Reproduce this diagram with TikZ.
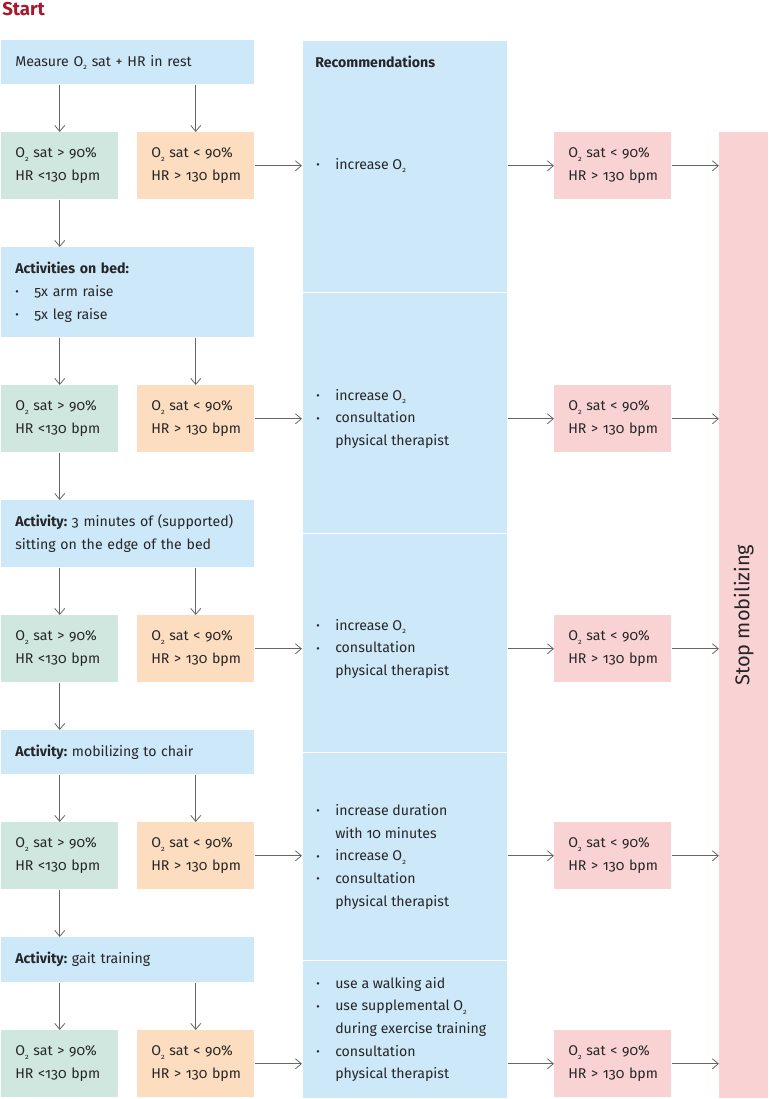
\documentclass[tikz,border=0pt]{standalone}
\usepackage{fontspec}
\setmainfont{Fira Sans}[Numbers=OldStyle]
\usepackage{xcolor}
\usetikzlibrary{arrows.meta,calc}
\definecolor{recblu}{RGB}{205,232,249}
\definecolor{okgrn}{RGB}{208,231,223}
\definecolor{warnorg}{RGB}{253,221,192}
\definecolor{stoppnk}{RGB}{249,211,212}
\definecolor{startred}{RGB}{166,25,46}
\newcommand{\Otwo}{O\raisebox{-0.45ex}{\fontsize{5.5}{6}\selectfont 2}}
\newcommand{\bul}{\makebox[14.25pt][l]{\raisebox{0.1ex}{\footnotesize\textbullet}}}
\newcommand{\ind}{\hspace*{14.25pt}}
\frenchspacing

\begin{document}
\begin{tikzpicture}[x=0.75pt,y=0.75pt,yscale=-1,xscale=1,
	txt/.style={font=\fontsize{10.6}{17}\selectfont, text=black!85},
	wide/.style={txt, anchor=north west, inner xsep=10.5pt, inner ysep=0pt, text width=168.75pt, align=left, fill=recblu},
	cond/.style={txt, anchor=north west, inner xsep=10.5pt, inner ysep=0pt, text width=66.75pt, minimum height=50.25pt, align=left},
	recbox/.style={anchor=north west, inner sep=0pt, minimum width=153.75pt, fill=recblu, draw=white, line width=0.75pt},
	arr/.style={draw=black!60, line width=0.6pt, -{Straight Barb[length=4.5pt,width=7.5pt]}}]
	\useasboundingbox (0,0) rectangle (770,1099);

	\node [anchor=base west, inner sep=0pt, font=\fontsize{14}{16}\selectfont\bfseries, text=startred] (start) at (2,15.5) {Start};

	% recommendations column
	\node [recbox, minimum height=189pt] (rec1) at (302,40) {};
	\node [recbox, minimum height=180.75pt] (rec2) at (302,292) {};
	\node [recbox, minimum height=164.25pt] (rec3) at (302,533) {};
	\node [recbox, minimum height=156pt] (rec4) at (302,752) {};
	\node [recbox, minimum height=103.5pt] (rec5) at (302,960) {};
	\node [txt, anchor=west, inner sep=0pt, font=\fontsize{10.6}{17}\selectfont\bfseries] (rechead) at (315,62) {Recommendations};

	% stop column
	\node [anchor=north west, inner sep=0pt, minimum width=36.75pt, minimum height=724.5pt, fill=stoppnk] (stop) at (719,132) {};
	\node [txt, rotate=90, inner sep=0pt, font=\fontsize{15}{17}\selectfont] (stoptxt) at (stop.center) {Stop mobilizing};

	% activities
	\node [wide, minimum height=33pt] (meas) at (1,40) {Measure \Otwo{} sat + HR in rest};
	\node [wide, minimum height=67.5pt] (bed) at (1,247) {\textbf{Activities on bed:}\\ \bul 5x arm raise\\ \bul 5x leg raise};
	\node [wide, minimum height=50.25pt] (sit) at (1,500) {\textbf{Activity:} 3 minutes of (supported)\\ sitting on the edge of the bed};
	\node [wide, minimum height=33pt] (chair) at (1,730) {\textbf{Activity:} mobilizing to chair};
	\node [wide, minimum height=33.75pt] (gait) at (1,937) {\textbf{Activity:} gait training};

	% measured values
	\foreach \i/\y in {1/132,2/385,3/615,4/822,5/1030}{
		\node [cond, fill=okgrn] (g\i) at (1,\y) {\Otwo{} sat~>~90\%\\ HR~<130~bpm};
		\node [cond, fill=warnorg] (o\i) at (137,\y) {\Otwo{} sat~<~90\%\\ HR~>~130~bpm};
		\node [cond, fill=stoppnk] (r\i) at (554,\y) {\Otwo{} sat~<~90\%\\ HR~>~130~bpm};
	}

	% recommendation texts
	\node [txt, anchor=west, inner sep=0pt, align=left] (t1) at ($(rec1.west |- o1.east)+(14,0)$) {\bul increase \Otwo};
	\node [txt, anchor=west, inner sep=0pt, align=left] (t2) at ($(rec2.west |- o2.east)+(14,0)$) {\bul increase \Otwo\\ \bul consultation\\ \ind physical therapist};
	\node [txt, anchor=west, inner sep=0pt, align=left] (t3) at ($(rec3.west |- o3.east)+(14,0)$) {\bul increase \Otwo\\ \bul consultation\\ \ind physical therapist};
	\node [txt, anchor=west, inner sep=0pt, align=left] (t4) at ($(rec4.west |- o4.east)+(14,1)$) {\bul increase duration\\ \ind with 10 minutes\\ \bul increase \Otwo\\ \bul consultation\\ \ind physical therapist};
	\node [txt, anchor=west, inner sep=0pt, align=left] (t5) at ($(rec5.west)+(14,0)$) {\bul use a walking aid\\ \bul use supplemental \Otwo\\ \ind during exercise training\\ \bul consultation\\ \ind physical therapist};

	% arrows down the left side
	\draw [arr] (g1.north |- meas.south) -- (g1.north);
	\draw [arr] (o1.north |- meas.south) -- (o1.north);
	\draw [arr] (g1.south) -- (g1.south |- bed.north);
	\draw [arr] (g2.north |- bed.south) -- (g2.north);
	\draw [arr] (o2.north |- bed.south) -- (o2.north);
	\draw [arr] (g2.south) -- (g2.south |- sit.north);
	\draw [arr] (g3.north |- sit.south) -- (g3.north);
	\draw [arr] (o3.north |- sit.south) -- (o3.north);
	\draw [arr] (g3.south) -- (g3.south |- chair.north);
	\draw [arr] (g4.north |- chair.south) -- (g4.north);
	\draw [arr] (o4.north |- chair.south) -- (o4.north);
	\draw [arr] (g4.south) -- (g4.south |- gait.north);
	\draw [arr] (g5.north |- gait.south) -- (g5.north);
	\draw [arr] (o5.north |- gait.south) -- (o5.north);

	% arrows to the right
	\foreach \i in {1,...,5}{
		\draw [arr] (o\i.east) -- (o\i.east -| rec\i.west);
		\draw [arr] (r\i.west -| rec\i.east) -- (r\i.west);
		\draw [arr] (r\i.east) -- (r\i.east -| stop.west);
	}
\end{tikzpicture}
\end{document}
